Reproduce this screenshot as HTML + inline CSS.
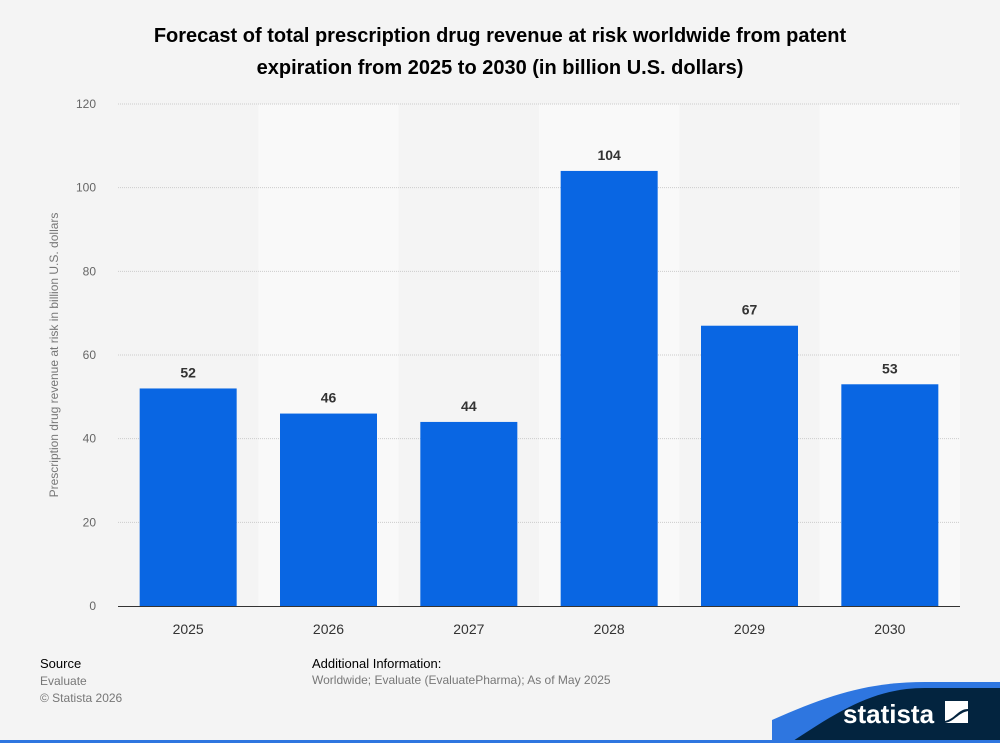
<!DOCTYPE html>
<html><head><meta charset="utf-8"><style>
body{margin:0;width:1000px;height:743px;background:#f4f4f4;font-family:"Liberation Sans",sans-serif;overflow:hidden;position:relative}
.t{position:absolute}
</style></head><body>
<div class="t" style="left:0;width:1000px;top:20px;text-align:center;font-weight:bold;font-size:20px;line-height:32px;color:#000">Forecast of total prescription drug revenue at risk worldwide from patent<br>expiration from 2025 to 2030 (in billion U.S. dollars)</div>
<svg id="chart" class="t" style="left:0;top:0" width="1000" height="743"></svg>
<div class="t" style="left:40px;top:656px;font-size:13px;color:#000">Source</div>
<div class="t" style="left:40px;top:673px;font-size:12px;color:#777;line-height:17px">Evaluate<br>© Statista 2026</div>
<div class="t" style="left:312px;top:656px;font-size:13px;color:#000">Additional Information:</div>
<div class="t" style="left:312px;top:673px;font-size:12px;color:#777">Worldwide; Evaluate (EvaluatePharma); As of May 2025</div>
<svg class="t" style="left:0;top:680px" width="1000" height="63">
<path d="M772 63 L772 40 C830 14 870 2 925 2 L1000 2 L1000 63 Z" fill="#2e76e0"/>
<path d="M790 63 C840 30 875 8 925 8 L1000 8 L1000 63 Z" fill="#03243f"/>
<rect x="0" y="60" width="1000" height="3" fill="#2e76e0"/>
<text x="843" y="43" fill="#fff" font-size="26" font-weight="bold" font-family="Liberation Sans,sans-serif">statista</text>
<path d="M945 21 L968 21 L968 29 C958 29 955 39 945 41 Z M945 43 C955 41 958 33 968 31 L968 43 Z" fill="#fff"/>
</svg>
<script>
const categories=["2025","2026","2027","2028","2029","2030"];
const values=[52,46,44,104,67,53];
const ticks=[0,20,40,60,80,100,120];
const svg=document.getElementById('chart');
const NS='http://www.w3.org/2000/svg';
const x0=118,x1=960,yb=606,yt=104,ymax=120;
const bw=(x1-x0)/categories.length;
const y=v=>yb-(yb-yt)*v/ymax;
const xc=i=>x0+bw*(i+0.5);
function mk(t,a){const e=document.createElementNS(NS,t);for(const k in a)e.setAttribute(k,a[k]);svg.appendChild(e);return e;}
categories.forEach((c,i)=>{if(i%2===1){const r=mk('rect',{x:x0+bw*i,y:yt,width:bw,height:yb-yt,fill:'#f9f9f9'});

}});
ticks.forEach(t=>{
if(t>0){const l=mk('line',{x1:x0,x2:x1,y1:y(t),y2:y(t),stroke:'#ccc','stroke-dasharray':'1,1'});

}
const tx=mk('text',{x:96,y:y(t)+4,'text-anchor':'end','font-size':12,fill:'#666'});tx.textContent=t;


});
values.forEach((v,i)=>{
const r=mk('rect',{x:xc(i)-48.5,y:y(v),width:97,height:yb-y(v),fill:'#0966e3'});


const t=mk('text',{x:xc(i),y:y(v)-11,'text-anchor':'middle','font-size':14,'font-weight':'bold',fill:'#333'});t.textContent=v;


const c=mk('text',{x:xc(i),y:634,'text-anchor':'middle','font-size':14,fill:'#333'});c.textContent=categories[i];


});
const ax=mk('line',{x1:x0,x2:x1,y1:yb+0.5,y2:yb+0.5,stroke:'#333'});


const yl=mk('text',{x:0,y:0,transform:'translate(58,355) rotate(-90)','text-anchor':'middle','font-size':12,fill:'#777'});
yl.textContent='Prescription drug revenue at risk in billion U.S. dollars';


</script>
</body></html>
